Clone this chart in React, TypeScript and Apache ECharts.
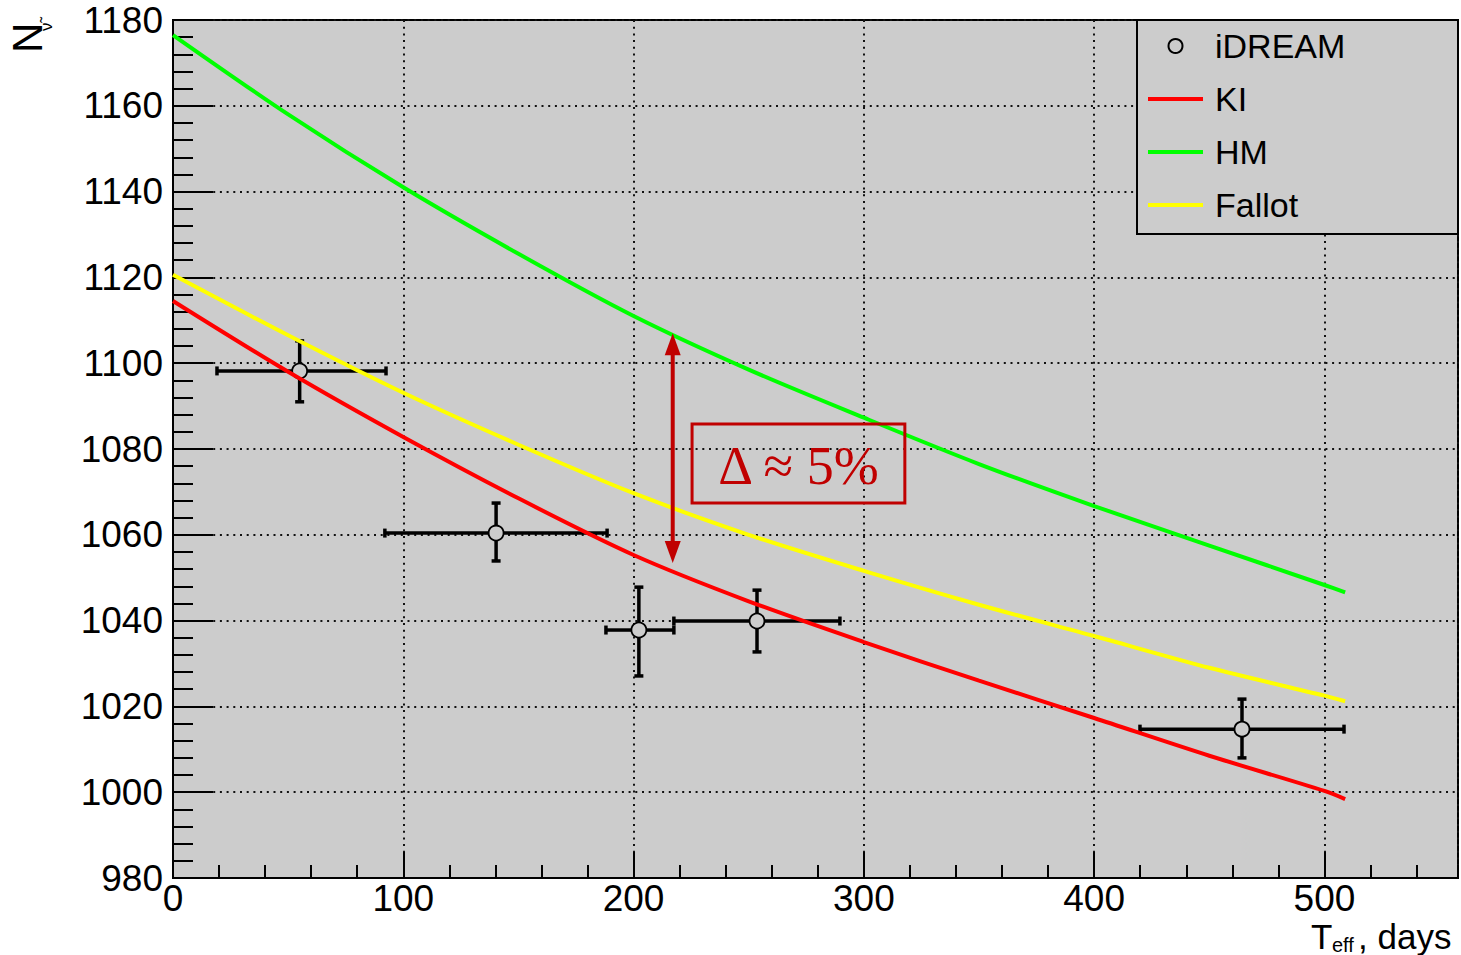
import React, { useEffect, useRef } from 'react';
import * as echarts from 'echarts';

// ---- data ----
const curveX = [0, 50, 100, 150, 200, 250, 300, 350, 400, 450, 500, 509];
const kiY = [1114.5, 1098, 1082.8, 1068.5, 1055.3, 1044.5, 1035, 1026, 1017.3, 1008.5, 1000.3, 998.4];
const hmY = [1176.5, 1158, 1141, 1125.5, 1111, 1098.5, 1087.3, 1076.5, 1066.7, 1057.5, 1048.3, 1046.6];
const fallotY = [1120.6, 1106.5, 1093.1, 1081, 1069.7, 1060, 1051.6, 1043.7, 1036.4, 1029, 1022.5, 1021.2];

const idreamX = [55, 140.3, 202.3, 253.6, 464.2];
const idreamY = [1098.2, 1060.4, 1037.8, 1039.9, 1014.7];
const idreamXLo = [19.1, 92, 188, 217.5, 419.9];
const idreamXHi = [92.5, 188.5, 217.5, 289.6, 508.5];
const idreamYLo = [1091, 1053.9, 1027.1, 1032.7, 1008];
const idreamYHi = [1105.2, 1067.4, 1047.8, 1047.1, 1021.7];

const xMin = 0;
const xMax = 558;
const xMajor = 100;
const xMinor = 20;
const yMin = 980;
const yMax = 1180;
const yMajor = 20;

// annotation (data coordinates)
const arrowX = 217;
const arrowTop = 1107;
const arrowBottom = 1053.4;
const boxX0 = 225.4;
const boxX1 = 317.8;
const boxYTop = 1085.8;
const boxYBottom = 1067.4;
const annotationText = 'Δ ≈ 5%';

const FONT = 'Liberation Sans, Arial, Helvetica, sans-serif';
const DARKRED = '#c00000';
const LINE_ICON = 'path://M0,0H55V4H0Z';

export default function App() {
  const ref = useRef<HTMLDivElement>(null);
  useEffect(() => {
    if (!ref.current) return;
    const chart = echarts.init(ref.current, null, { renderer: 'svg' });
    const toPairs = (ys: number[]) => curveX.map((x, i) => [x, ys[i]]);
    const idreamData = idreamX.map((x, i) => [x, idreamY[i], idreamXLo[i], idreamXHi[i], idreamYLo[i], idreamYHi[i]]);

    const option: any = {
      animation: false,
      grid: {
        left: 173, top: 20, right: 3, bottom: 77,
        show: true, backgroundColor: '#cccccc', borderColor: '#000', borderWidth: 2,
      },
      xAxis: [
        {
          type: 'value', min: xMin, max: xMax, interval: xMajor, position: 'bottom',
          axisLine: { show: true, lineStyle: { color: '#000', width: 2 } },
          axisTick: { show: true, inside: true, length: 26, lineStyle: { color: '#000', width: 2 } },
          minorTick: { show: false },
          axisLabel: { show: true, showMaxLabel: false, margin: 6, fontSize: 37, lineHeight: 28, fontFamily: FONT, color: '#000', formatter: (v: number) => String(v) },
          splitLine: { show: true, lineStyle: { color: '#111', width: 2, type: [2, 4.7] } },
        },
        {
          type: 'value', min: xMin, max: xMax, interval: xMinor, position: 'bottom',
          axisLine: { show: false },
          axisTick: { show: true, inside: true, length: 13, lineStyle: { color: '#000', width: 2 } },
          axisLabel: { show: false },
          splitLine: { show: false },
        },
      ],
      yAxis: {
        type: 'value', min: yMin, max: yMax, interval: yMajor,
        axisLine: { show: true, lineStyle: { color: '#000', width: 2 } },
        axisTick: { show: true, inside: true, length: 40, lineStyle: { color: '#000', width: 2 } },
        minorTick: { show: true, splitNumber: 5, length: 20, lineStyle: { color: '#000', width: 2 } },
        axisLabel: { margin: 10, fontSize: 37, fontFamily: FONT, color: '#000', formatter: (v: number) => String(v) },
        splitLine: { show: true, lineStyle: { color: '#111', width: 2, type: [2, 4.7] } },
      },
      legend: {
        orient: 'vertical', left: 1148, top: 26, padding: 0,
        itemWidth: 55, itemHeight: 14, itemGap: 13,
        textStyle: { fontFamily: FONT, fontSize: 34, color: '#000', lineHeight: 40, padding: [0, 0, 0, 7] },
        data: [
          { name: 'iDREAM', icon: 'circle', itemStyle: { color: '#cccccc', borderColor: '#000', borderWidth: 2 } },
          { name: 'KI', icon: LINE_ICON },
          { name: 'HM', icon: LINE_ICON },
          { name: 'Fallot', icon: LINE_ICON },
        ],
        z: 6,
      },
      series: [
        {
          name: 'iDREAM', type: 'custom', z: 2, data: idreamData,
          itemStyle: { color: '#000' },
          renderItem: (params: any, api: any) => {
            const x = api.value(0), y = api.value(1);
            const c = api.coord([x, y]);
            const l = api.coord([api.value(2), y]);
            const r = api.coord([api.value(3), y]);
            const b = api.coord([x, api.value(4)]);
            const t = api.coord([x, api.value(5)]);
            const R = 7.5;
            const cap = 4.5;
            const lw = 3.5;
            const st = { stroke: '#000', lineWidth: lw };
            const ln = (x1: number, y1: number, x2: number, y2: number) => ({ type: 'line', shape: { x1, y1, x2, y2 }, style: st });
            return {
              type: 'group',
              children: [
                ln(l[0], c[1], c[0] - R, c[1]),
                ln(c[0] + R, c[1], r[0], c[1]),
                ln(c[0], t[1], c[0], c[1] - R),
                ln(c[0], c[1] + R, c[0], b[1]),
                ln(l[0], c[1] - cap, l[0], c[1] + cap),
                ln(r[0], c[1] - cap, r[0], c[1] + cap),
                ln(c[0] - cap, t[1], c[0] + cap, t[1]),
                ln(c[0] - cap, b[1], c[0] + cap, b[1]),
                { type: 'circle', shape: { cx: c[0], cy: c[1], r: R }, style: { fill: '#cccccc', stroke: '#000', lineWidth: 1.8 } },
              ],
            };
          },
        },
        { name: 'KI', type: 'line', z: 3, data: toPairs(kiY), smooth: 0.3, symbol: 'none', lineStyle: { color: '#ff0000', width: 4 }, itemStyle: { color: '#ff0000' } },
        { name: 'HM', type: 'line', z: 3, data: toPairs(hmY), smooth: 0.3, symbol: 'none', lineStyle: { color: '#00ff00', width: 4 }, itemStyle: { color: '#00ff00' } },
        { name: 'Fallot', type: 'line', z: 3, data: toPairs(fallotY), smooth: 0.3, symbol: 'none', lineStyle: { color: '#ffff00', width: 4 }, itemStyle: { color: '#ffff00' } },
      ],
    };
    chart.setOption(option);

    const px = (p: number[]) => chart.convertToPixel({ gridIndex: 0 }, p) as number[];
    const aT = px([arrowX, arrowTop]);
    const aB = px([arrowX, arrowBottom]);
    const b0 = px([boxX0, boxYTop]);
    const b1 = px([boxX1, boxYBottom]);
    const head = 22;
    const hw = 8;

    chart.setOption({
      graphic: [
        // legend frame
        { type: 'rect', z: 3, shape: { x: 1137, y: 20, width: 321, height: 214 }, style: { fill: '#cccccc', stroke: '#000', lineWidth: 2 } },
        // y axis title
        {
          type: 'group', x: 27.5, y: 53, rotation: Math.PI / 2, z: 10,
          children: [
            { type: 'text', x: 0, y: 0, style: { text: 'N', fontSize: 42, fontFamily: FONT, fill: '#000', align: 'left', verticalAlign: 'middle' } },
            { type: 'text', x: 22, y: 19, style: { text: 'ν̃', fontSize: 17, fontFamily: FONT, fill: '#000', align: 'left', verticalAlign: 'middle' } },
          ],
        },
        // x axis title
        { type: 'text', z: 10, x: 1311, y: 936, style: { text: 'T', fontSize: 35, lineHeight: 26, fontFamily: FONT, fill: '#000', align: 'left', verticalAlign: 'middle' } },
        { type: 'text', z: 10, x: 1332, y: 945, style: { text: 'eff', fontSize: 20, lineHeight: 18, fontFamily: FONT, fill: '#000', align: 'left', verticalAlign: 'middle' } },
        { type: 'text', z: 10, x: 1358, y: 936, style: { text: ', days', fontSize: 35, lineHeight: 26, fontFamily: FONT, fill: '#000', align: 'left', verticalAlign: 'middle' } },
        // annotation arrow
        { type: 'line', z: 8, shape: { x1: aT[0], y1: aT[1] + head - 2, x2: aB[0], y2: aB[1] - head + 2 }, style: { stroke: DARKRED, lineWidth: 4 } },
        { type: 'polygon', z: 8, shape: { points: [[aT[0], aT[1]], [aT[0] - hw, aT[1] + head], [aT[0] + hw, aT[1] + head]] }, style: { fill: DARKRED } },
        { type: 'polygon', z: 8, shape: { points: [[aB[0], aB[1]], [aB[0] - hw, aB[1] - head], [aB[0] + hw, aB[1] - head]] }, style: { fill: DARKRED } },
        // annotation box
        { type: 'rect', z: 8, shape: { x: b0[0], y: b0[1], width: b1[0] - b0[0], height: b1[1] - b0[1] }, style: { fill: 'none', stroke: DARKRED, lineWidth: 3 } },
        {
          type: 'text', z: 9, x: (b0[0] + b1[0]) / 2, y: (b0[1] + b1[1]) / 2 + 2,
          style: { text: annotationText, fontSize: 54, fontFamily: 'Liberation Serif, DejaVu Serif, serif', fill: DARKRED, align: 'center', verticalAlign: 'middle' },
        },
      ],
    });

    return () => chart.dispose();
  }, []);
  return <div ref={ref} style={{ position: 'absolute', left: 0, top: 0, width: 1461, height: 955 }} />;
}
